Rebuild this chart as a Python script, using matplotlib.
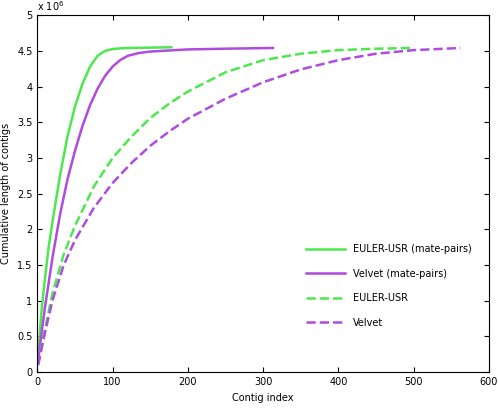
import matplotlib
matplotlib.use("Agg")
import matplotlib.pyplot as plt
from matplotlib.ticker import FuncFormatter

euler_mp_x = [1, 5, 10, 15, 20, 30, 40, 50, 60, 70, 80, 90, 100, 110, 120, 150, 178]
euler_mp_y = [0.2, 0.8, 1.3, 1.75, 2.1, 2.75, 3.3, 3.72, 4.04, 4.28, 4.43, 4.5, 4.525, 4.535, 4.54, 4.545, 4.55]
velvet_mp_x = [1, 5, 10, 20, 30, 40, 50, 60, 70, 80, 90, 100, 110, 120, 135, 150, 200, 250, 313]
velvet_mp_y = [0.15, 0.5, 0.9, 1.6, 2.2, 2.7, 3.1, 3.45, 3.74, 3.97, 4.15, 4.28, 4.37, 4.43, 4.47, 4.49, 4.52, 4.53, 4.54]
euler_x = [1, 10, 20, 35, 50, 75, 100, 125, 150, 175, 200, 250, 300, 350, 400, 450, 500]
euler_y = [0.1, 0.6, 1.1, 1.65, 2.05, 2.6, 3.0, 3.3, 3.56, 3.76, 3.93, 4.2, 4.37, 4.46, 4.51, 4.53, 4.54]
velvet_x = [1, 10, 20, 35, 50, 75, 100, 125, 150, 175, 200, 250, 300, 350, 400, 450, 500, 562]
velvet_y = [0.1, 0.55, 1.0, 1.5, 1.85, 2.3, 2.65, 2.93, 3.17, 3.37, 3.55, 3.83, 4.06, 4.24, 4.37, 4.46, 4.51, 4.54]

green = "#4de84d"
purple = "#b04be0"

fig = plt.figure(figsize=(4.98, 4.09), dpi=100)
ax = fig.add_axes([0.075, 0.09, 0.907, 0.873])
ax.plot(euler_mp_x, [v*1e6 for v in euler_mp_y], color=green, lw=1.8, label="EULER-USR (mate-pairs)")
ax.plot(velvet_mp_x, [v*1e6 for v in velvet_mp_y], color=purple, lw=1.8, label="Velvet (mate-pairs)")
ax.plot(euler_x, [v*1e6 for v in euler_y], color=green, lw=1.8, ls="--", label="EULER-USR")
ax.plot(velvet_x, [v*1e6 for v in velvet_y], color=purple, lw=1.8, ls="--", label="Velvet")
ax.set_xlim(0, 600)
ax.set_ylim(0, 5e6)
ax.set_xticks(range(0, 601, 100))
ax.set_yticks([i*0.5e6 for i in range(11)])
ax.yaxis.set_major_formatter(FuncFormatter(lambda v, p: f"{v/1e6:g}"))
ax.text(0.0, 1.005, r"x 10$^6$", transform=ax.transAxes, fontsize=7, va="bottom")
ax.tick_params(labelsize=7, direction="in", top=True, right=True)
ax.set_xlabel("Contig index", fontsize=7)
ax.set_ylabel("Cumulative length of contigs", fontsize=7)
ax.legend(loc="lower right", bbox_to_anchor=(0.98, 0.1), fontsize=7, frameon=False, handlelength=4, labelspacing=1.5)
fig.savefig("out.png", dpi=100)
